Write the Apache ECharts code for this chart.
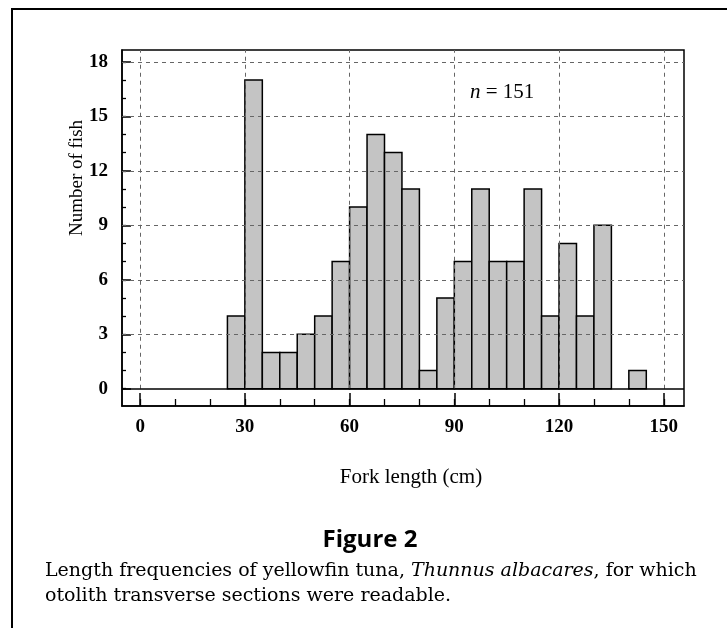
<!DOCTYPE html>
<html>
<head>
<meta charset="utf-8">
<script src="https://cdn.jsdelivr.net/npm/echarts@6/dist/echarts.min.js"></script>
<style>
  html, body { margin: 0; padding: 0; background: #fff; }
  #chart { width: 727px; height: 628px; }
</style>
</head>
<body>
<div id="chart"></div>
<script>
// Length-frequency bins (5 cm wide), start of each bin in cm
var binStarts = [25, 30, 35, 40, 45, 50, 55, 60, 65, 70, 75, 80, 85, 90, 95, 100, 105, 110, 115, 120, 125, 130, 135, 140];
var fishCounts = [4, 17, 2, 2, 3, 4, 7, 10, 14, 13, 11, 1, 5, 7, 11, 7, 7, 11, 4, 8, 4, 9, 0, 1];
var binWidth = 5;

// Axis ticks
var xMajorTicks = [0, 30, 60, 90, 120, 150];
var xMinorTicks = [0, 10, 20, 30, 40, 50, 60, 70, 80, 90, 100, 110, 120, 130, 140, 150];
var yMajorTicks = [0, 3, 6, 9, 12, 15, 18];
var yMinorTicks = [0, 1, 2, 3, 4, 5, 6, 7, 8, 9, 10, 11, 12, 13, 14, 15, 16, 17, 18];

var X_MIN = -5.2, X_MAX = 155.8;
var Y_MIN = -0.95, Y_MAX = 18.65;

var serif = '"Liberation Serif", "Times New Roman", serif';
var captionFont = '"DejaVu Serif", serif';

var barData = binStarts.map(function(s, i) {
    return [s, s + binWidth, fishCounts[i]];
});

// dashed grid lines, drawn underneath the bars
var gridLines = [];
yMajorTicks.forEach(function(v) {
    if (v === 0) return;
    gridLines.push([{ coord: [X_MIN, v] }, { coord: [X_MAX, v] }]);
});
xMajorTicks.forEach(function(v) {
    gridLines.push([{ coord: [v, 0] }, { coord: [v, Y_MAX] }]);
});

var chart = echarts.init(document.getElementById('chart'));

var option = {
    animation: false,
    backgroundColor: '#fff',
    grid: {
        left: 122, right: 43, top: 50, bottom: 222,
        show: true, borderColor: '#000', borderWidth: 1.5, backgroundColor: 'transparent'
    },
    xAxis: [{
        type: 'value', min: X_MIN, max: X_MAX,
        axisLine: { show: true, onZero: false, lineStyle: { color: '#000', width: 1.5 } },
        axisTick: { show: true, inside: true, length: 7, customValues: xMinorTicks, lineStyle: { color: '#000', width: 1.3 } },
        axisLabel: {
            show: true, customValues: xMajorTicks, margin: 12,
            fontFamily: serif, fontWeight: 'bold', fontSize: 19, color: '#000'
        },
        splitLine: { show: false }
    }, {
        type: 'value', min: X_MIN, max: X_MAX, position: 'bottom',
        axisLine: { show: false, onZero: false },
        axisTick: { show: true, inside: true, length: 13, customValues: xMajorTicks, lineStyle: { color: '#000', width: 1.5 } },
        axisLabel: { show: false },
        splitLine: { show: false }
    }],
    yAxis: [{
        type: 'value', min: Y_MIN, max: Y_MAX,
        axisLine: { show: true, onZero: false, lineStyle: { color: '#000', width: 1.5 } },
        axisTick: { show: true, inside: true, length: 4, customValues: yMinorTicks, lineStyle: { color: '#000', width: 1.3 } },
        axisLabel: {
            show: true, customValues: yMajorTicks, margin: 14,
            fontFamily: serif, fontWeight: 'bold', fontSize: 19, color: '#000'
        },
        splitLine: { show: false }
    }, {
        type: 'value', min: Y_MIN, max: Y_MAX, position: 'left',
        axisLine: { show: false, onZero: false },
        axisTick: { show: true, inside: true, length: 9, customValues: yMajorTicks, lineStyle: { color: '#000', width: 1.5 } },
        axisLabel: { show: false },
        splitLine: { show: false }
    }],
    series: [{
        // grid lines and the zero baseline
        type: 'line', data: [], xAxisIndex: 0, yAxisIndex: 0, z: 1,
        markLine: {
            silent: true, symbol: 'none', label: { show: false },
            lineStyle: { color: '#666', width: 1, type: [4, 4] },
            data: gridLines.concat([[
                { coord: [X_MIN, 0], lineStyle: { color: '#000', width: 1.5, type: 'solid' } },
                { coord: [X_MAX, 0] }
            ]])
        }
    }, {
        type: 'custom', xAxisIndex: 0, yAxisIndex: 0, z: 3,
        data: barData,
        renderItem: function(params, api) {
            var h = api.value(2);
            if (!h) return null;
            var p0 = api.coord([api.value(0), 0]);
            var p1 = api.coord([api.value(1), h]);
            return {
                type: 'rect',
                shape: { x: p0[0], y: p1[1], width: p1[0] - p0[0], height: p0[1] - p1[1] },
                style: { fill: '#c4c4c4', stroke: '#000', lineWidth: 1.5 }
            };
        }
    }],
    graphic: [
        // outer figure frame (top and left edges)
        { type: 'line', shape: { x1: 11, y1: 9, x2: 727, y2: 9 }, style: { stroke: '#000', lineWidth: 2 } },
        { type: 'line', shape: { x1: 12, y1: 9, x2: 12, y2: 628 }, style: { stroke: '#000', lineWidth: 2 } },
        {
            type: 'text', x: 77, y: 178, rotation: Math.PI / 2,
            style: { text: 'Number of fish', font: '19px ' + serif, fill: '#000', textAlign: 'center', textVerticalAlign: 'middle' }
        },
        {
            type: 'text', x: 470, y: 92,
            style: {
                text: '{i|n} = 151',
                rich: { i: { fontFamily: serif, fontStyle: 'italic', fontSize: 21, fill: '#000' } },
                font: '21px ' + serif, fill: '#000', textVerticalAlign: 'middle'
            }
        },
        {
            type: 'text', x: 411, y: 477,
            style: { text: 'Fork length (cm)', font: '21px ' + serif, fill: '#000', textAlign: 'center', textVerticalAlign: 'middle' }
        },
        {
            type: 'text', x: 370, y: 540,
            style: { text: 'Figure 2', font: 'bold 24px "Open Sans", sans-serif', fill: '#000', textAlign: 'center', textVerticalAlign: 'middle' }
        },
        {
            type: 'text', x: 45, y: 571,
            style: {
                text: 'Length frequencies of yellowfin tuna, {i|Thunnus albacares}, for which',
                rich: { i: { fontFamily: captionFont, fontStyle: 'italic', fontSize: 19, fill: '#000' } },
                font: '19px ' + captionFont, fill: '#000', textVerticalAlign: 'middle'
            }
        },
        {
            type: 'text', x: 45, y: 596,
            style: { text: 'otolith transverse sections were readable.', font: '19px ' + captionFont, fill: '#000', textVerticalAlign: 'middle' }
        }
    ]
};

chart.setOption(option);
</script>
</body>
</html>
